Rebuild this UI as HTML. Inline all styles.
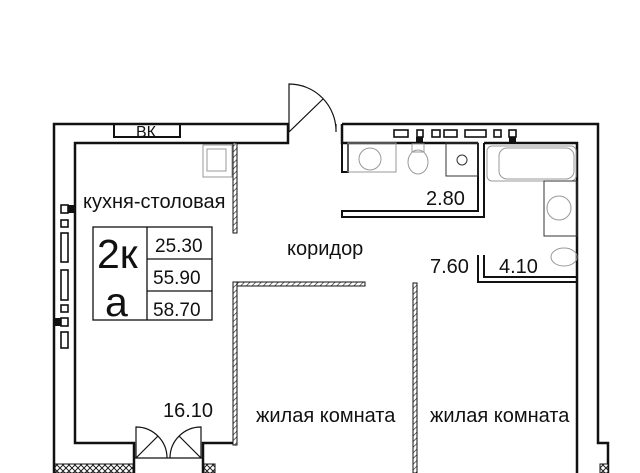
<!DOCTYPE html>
<html><head><meta charset="utf-8"><style>
html,body{margin:0;padding:0;background:#fff}
svg{display:block}
text{font-family:"Liberation Sans",sans-serif;fill:#111}
</style></head><body>
<svg width="640" height="473" viewBox="0 0 640 473" xmlns="http://www.w3.org/2000/svg">
<defs>
<pattern id="h" width="4" height="4" patternUnits="userSpaceOnUse" patternTransform="rotate(45)">
<rect width="4" height="4" fill="#fff"/><line x1="0" y1="0" x2="0" y2="4" stroke="#222" stroke-width="1.3"/></pattern>
<pattern id="x" width="6" height="6" patternUnits="userSpaceOnUse">
<rect width="6" height="6" fill="#fff"/><path d="M0 0L6 6M6 0L0 6" stroke="#222" stroke-width="1"/></pattern>
</defs>
<g fill="none" stroke="#111" stroke-width="2.5">
<path d="M54 473 V124 H288 V143 H75 V443 H134 V473"/>
<path d="M203 473 V443 H233"/>
<path d="M342 124 H598 V443 H608 V473"/>
<path d="M342 124 V143 H478"/>
<path d="M484 143 H577 V473"/>
<rect x="114" y="124" width="66" height="13" stroke-width="2"/>
<path d="M342 143 V172 H348 V143" stroke-width="2"/>
<path d="M478 143 V211 H342 V217 H484 V143" stroke-width="2"/>
<path d="M478 255 V282 H577 M484 255 V277 H577" stroke-width="2"/>
<rect x="93" y="227" width="119" height="93" stroke-width="1.3"/>
<path d="M147 227V320M147 259H212M147 291H212" stroke-width="1.3"/>
<g stroke-width="1.6">
<rect x="61" y="205" width="7" height="8"/><rect x="61" y="220" width="7" height="7"/>
<rect x="61" y="233" width="7" height="29"/><rect x="61" y="270" width="7" height="30"/>
<rect x="61" y="305" width="7" height="7"/><rect x="61" y="318" width="7" height="8"/>
<rect x="61" y="332" width="7" height="16"/>
</g>
<g stroke-width="1.6">
<rect x="394" y="130" width="14" height="7"/><rect x="417" y="130" width="6" height="7"/>
<rect x="432" y="130" width="8" height="7"/><rect x="444" y="130" width="13" height="7"/>
<rect x="465" y="130" width="21" height="7"/><rect x="494" y="130" width="7" height="7"/>
<rect x="509" y="130" width="7" height="7"/>
</g>
<path d="M289 132 L323 99 M289 132 V84 A47 47 0 0 1 336 132 V124" stroke-width="1.2"/>
<g stroke-width="1.2">
<path d="M134 458 H203"/>
<path d="M136 458 V427 A31 31 0 0 1 167 458 M136 458 L158 436"/>
<path d="M201 458 V427 A31 31 0 0 0 170 458 M201 458 L179 436"/>
</g>
</g>
<rect x="68" y="205" width="6" height="8" fill="#111"/>
<rect x="55" y="318" width="6" height="8" fill="#111"/>
<rect x="416" y="137" width="7" height="6" fill="#111"/>
<rect x="509" y="137" width="7" height="6" fill="#111"/>
<g stroke="#111" stroke-width="1">
<rect x="233" y="143" width="4" height="90" fill="url(#h)"/>
<rect x="233" y="282" width="132" height="4" fill="url(#h)"/>
<rect x="233" y="282" width="4" height="163" fill="url(#h)"/>
<rect x="413" y="283" width="4" height="190" fill="url(#h)"/>
<rect x="55" y="464" width="78" height="9" fill="url(#x)"/>
<rect x="204" y="464" width="11" height="9" fill="url(#x)"/>
<rect x="600" y="464" width="8" height="9" fill="url(#x)"/>
</g>
<g fill="none" stroke="#999" stroke-width="1">
<rect x="203" y="145" width="29" height="32"/><rect x="207" y="149" width="19" height="22"/>
<rect x="348" y="143" width="48" height="29"/><circle cx="370" cy="159" r="11"/>
<ellipse cx="418" cy="162" rx="10" ry="12"/><rect x="412" y="144" width="12" height="8"/>
<rect x="446" y="143" width="32" height="33" stroke="#333"/><circle cx="462" cy="160" r="5" stroke="#333"/>
<rect x="487" y="146" width="89" height="35" rx="5"/><rect x="499" y="148" width="75" height="31" rx="8"/>
<rect x="544" y="181" width="33" height="55" stroke="#333"/><circle cx="559" cy="208" r="12"/>
<ellipse cx="564" cy="257" rx="13" ry="9"/>
</g>
<text x="136" y="137" font-size="16">ВК</text>
<text x="83" y="208" font-size="20">кухня-столовая</text>
<text x="287" y="255" font-size="20">коридор</text>
<text x="97" y="268" font-size="41">2к</text>
<text x="105" y="316" font-size="41">а</text>
<text x="155" y="252" font-size="19">25.30</text>
<text x="153" y="284" font-size="19">55.90</text>
<text x="153" y="316" font-size="19">58.70</text>
<text x="426" y="205" font-size="20">2.80</text>
<text x="430" y="273" font-size="20">7.60</text>
<text x="499" y="273" font-size="20">4.10</text>
<text x="163" y="417" font-size="20">16.10</text>
<text x="256" y="422" font-size="20">жилая комната</text>
<text x="430" y="422" font-size="20">жилая комната</text>
</svg>
</body></html>
